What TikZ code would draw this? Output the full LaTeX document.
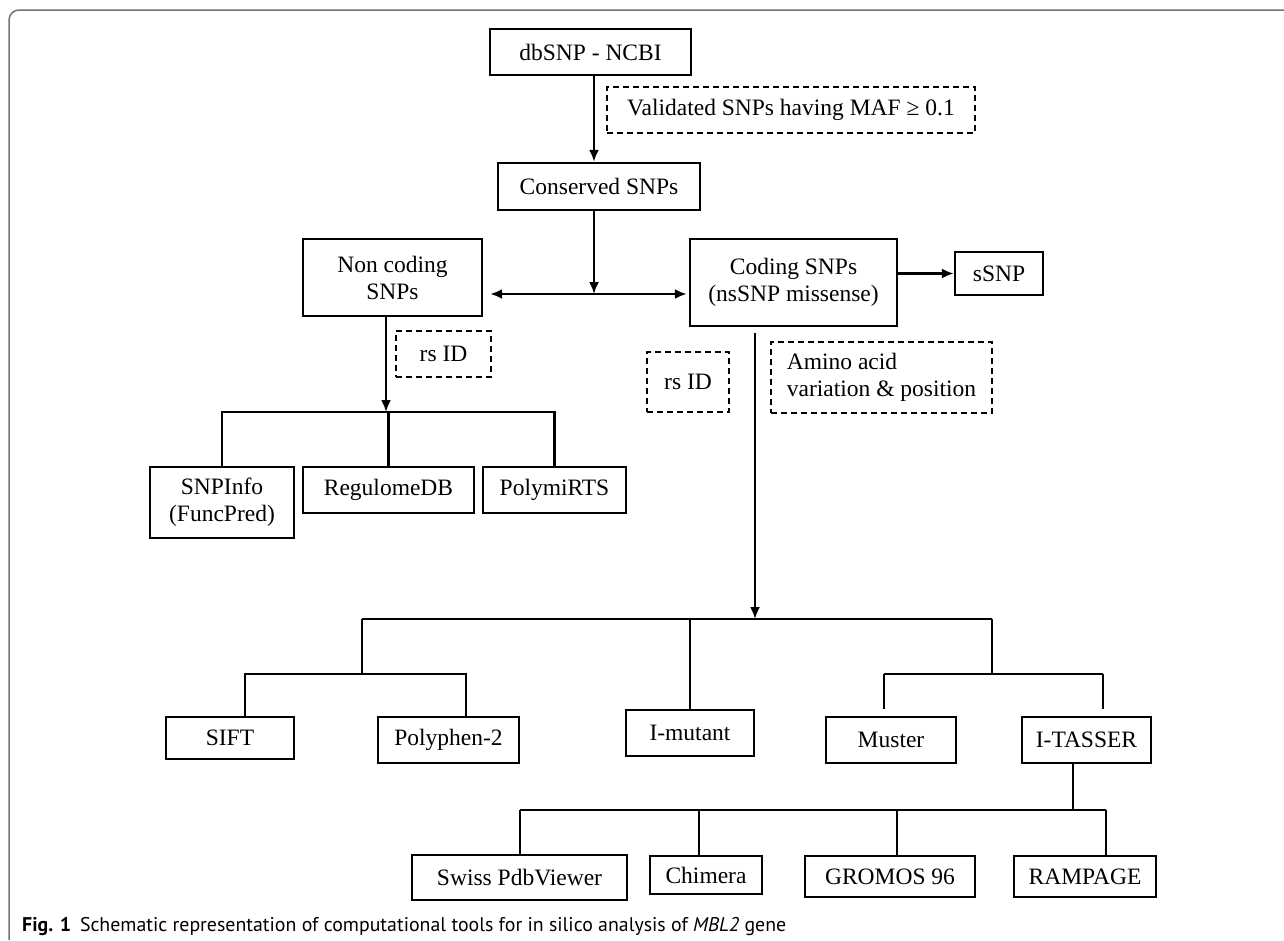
\documentclass[tikz,border=0pt]{standalone}
\usepackage{fontspec}
\setmainfont{Liberation Serif}
\newfontfamily\capfont{PT Sans}
\usetikzlibrary{arrows.meta}
\begin{document}
\begin{tikzpicture}[x=1pt,y=-1pt,
  box/.style={draw, line width=2.4pt, inner sep=0pt, align=center, font=\fontsize{23.5}{27}\selectfont},
  dbox/.style={draw, line width=2pt, dash pattern=on 6pt off 4pt, inner sep=0pt, align=center, font=\fontsize{23.5}{27}\selectfont},
  conn/.style={line width=2.2pt},
  arr/.style={line width=2.2pt, -{Latex[length=12pt,width=10pt]}},
  darr/.style={line width=2.2pt, {Latex[length=12pt,width=10pt]}-{Latex[length=12pt,width=10pt]}},
  frame/.style={draw=black!55, line width=1.5pt}]
\useasboundingbox (0,0) rectangle (1284,940);
\draw[frame, rounded corners=10pt] (9,940) -- (9,10) -- (1284,10);

% nodes
\node[box, minimum width=201pt, minimum height=46pt] (db) at (590.5,52) {dbSNP - NCBI};
\node[dbox, minimum width=368pt, minimum height=46pt] (val) at (791,110) {Validated SNPs having MAF ≥ 0.1};
\node[box, minimum width=202pt, minimum height=47pt] (cons) at (599,186.5) {Conserved SNPs};
\node[box, minimum width=179pt, minimum height=77pt] (nonc) at (392.5,277.5) {Non coding\\SNPs};
\node[box, minimum width=207pt, minimum height=87pt] (cod) at (793.5,282.5) {Coding SNPs\\(nsSNP missense)};
\node[box, minimum width=88pt, minimum height=43pt] (ssnp) at (999,273.5) {sSNP};
\node[dbox, minimum width=95pt, minimum height=46pt] (rs1) at (443.5,354) {rs ID};
\node[dbox, minimum width=82pt, minimum height=60pt] (rs2) at (688,382) {rs ID};
\node[dbox, minimum width=221pt, minimum height=71pt, align=left] (amino) at (881.5,377.5) {Amino acid\\variation \& position};
\node[box, minimum width=144pt, minimum height=71pt] (snpinfo) at (222,502.5) {SNPInfo\\(FuncPred)};
\node[box, minimum width=171pt, minimum height=46pt] (regdb) at (388.5,490) {RegulomeDB};
\node[box, minimum width=143pt, minimum height=46pt] (polym) at (554.5,490) {PolymiRTS};
\node[box, minimum width=128pt, minimum height=42pt] (sift) at (230,738) {SIFT};
\node[box, minimum width=141pt, minimum height=46pt] (poly) at (448.5,740) {Polyphen-2};
\node[box, minimum width=128pt, minimum height=46pt] (imut) at (690,733) {I-mutant};
\node[box, minimum width=130pt, minimum height=46pt] (muster) at (891,740) {Muster};
\node[box, minimum width=129pt, minimum height=46pt] (itas) at (1086.5,740) {I-TASSER};
\node[box, minimum width=215pt, minimum height=45pt] (swiss) at (519.5,877.5) {Swiss PdbViewer};
\node[box, minimum width=112pt, minimum height=38pt] (chim) at (706,875) {Chimera};
\node[box, minimum width=170pt, minimum height=41pt] (grom) at (890,876.5) {GROMOS 96};
\node[box, minimum width=142pt, minimum height=41pt] (ramp) at (1085,876.5) {RAMPAGE};

\node[anchor=base west, inner sep=0pt] (cap) at (22,931)
  {\resizebox{764pt}{!}{\capfont\fontsize{20}{24}\selectfont\textbf{Fig. 1}\hspace{0.45em}Schematic representation of computational tools for in silico analysis of \textit{MBL2} gene}};

% junction coordinates
\coordinate (j1) at (594,294);
\coordinate (j2) at (386,412);
\coordinate (j3) at (755,619);
\coordinate (jL) at (362,619);
\coordinate (jR) at (992,619);
\coordinate (jLL) at (362,674);
\coordinate (jRR) at (992,674);
\coordinate (vS) at (245,674);
\coordinate (vP) at (466,674);
\coordinate (vM) at (884,674);
\coordinate (vI) at (1103,674);
\coordinate (j4) at (1073,810);
\coordinate (vSw) at (520,810);
\coordinate (vCh) at (699,810);
\coordinate (vGr) at (897,810);
\coordinate (vRa) at (1106,810);

% connectors
\draw[arr] (db.south -| j1) -- (cons.north -| j1);
\draw[arr] (cons.south -| j1) -- (j1);
\draw[darr, shorten <=7pt, shorten >=2pt] (nonc.east |- j1) -- (cod.west |- j1);
\draw[arr] (cod.east |- ssnp.west) -- (ssnp.west);

\draw[arr] (nonc.south -| j2) -- (j2);
\draw[conn] (snpinfo.north) |- (polym.north |- j2) -- (polym.north);
\draw[conn] (regdb.north |- j2) -- (regdb.north);

\draw[arr, shorten <=6pt] (cod.south -| j3) -- (j3);
\draw[conn] (jL) -- (jR);
\draw[conn] (jL) -- (jLL);
\draw[conn] (sift.north -| vS) -- (vS) -- (vP) -- (poly.north -| vP);
\draw[conn] (imut.north |- jR) -- (imut.north);
\draw[conn] (jR) -- (jRR);
\draw[conn] (vM) -- (vI);
\draw[conn, shorten >=7pt] (vM) -- (muster.north -| vM);
\draw[conn, shorten >=7pt] (vI) -- (itas.north -| vI);

\draw[conn] (itas.south -| j4) -- (j4);
\draw[conn] (vSw) -- (vRa);
\draw[conn] (vSw) -- (swiss.north -| vSw);
\draw[conn] (vCh) -- (chim.north -| vCh);
\draw[conn] (vGr) -- (grom.north -| vGr);
\draw[conn] (vRa) -- (ramp.north -| vRa);
\end{tikzpicture}
\end{document}
